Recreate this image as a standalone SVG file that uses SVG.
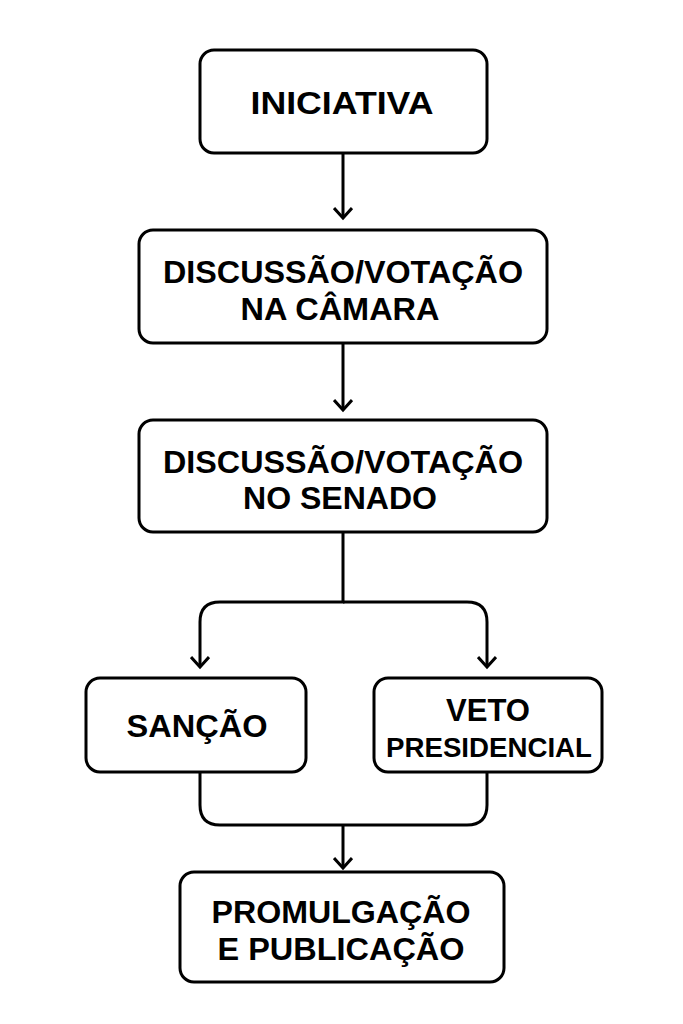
<svg xmlns="http://www.w3.org/2000/svg" width="683" height="1024" viewBox="0 0 683 1024">
<defs>
<marker id="ah" viewBox="0 0 20 20" refX="16" refY="10" markerWidth="20" markerHeight="20" markerUnits="userSpaceOnUse" orient="auto">
<path d="M6 1 L16 10 L6 19" fill="none" stroke="#000" stroke-width="3"/>
</marker>
<style>
.b{fill:#fff;stroke:#000;stroke-width:3}
text{font-family:"Liberation Sans",Arial,sans-serif;font-weight:bold;font-size:32px;text-anchor:middle;fill:#000}
.c{fill:none;stroke:#000;stroke-width:3}
</style>
</defs>
<rect width="683" height="1024" fill="#fff"/>
<g id="connectors">
<path class="c" d="M343 153 V218" marker-end="url(#ah)"/>
<path class="c" d="M343 343 V410" marker-end="url(#ah)"/>
<path class="c" d="M343 532 V602 H220 Q200 602 200 622 V667" marker-end="url(#ah)"/>
<path class="c" d="M343 602 H467 Q487 602 487 622 V667" marker-end="url(#ah)"/>
<path class="c" d="M200 772 V805 Q200 825 220 825 H467 Q487 825 487 805 V772"/>
<path class="c" d="M343 825 V868" marker-end="url(#ah)"/>
</g>
<g id="n1"><rect class="b" x="200" y="50" width="287" height="103" rx="14"/><text x="342" y="114" textLength="183" lengthAdjust="spacingAndGlyphs">INICIATIVA</text></g>
<g id="n2"><rect class="b" x="139" y="230" width="408" height="113" rx="14"/><text x="343" y="283" textLength="360" lengthAdjust="spacingAndGlyphs">DISCUSSÃO/VOTAÇÃO</text><text x="340" y="320" textLength="199" lengthAdjust="spacingAndGlyphs">NA CÂMARA</text></g>
<g id="n3"><rect class="b" x="139" y="420" width="408" height="112" rx="14"/><text x="343" y="473" textLength="360" lengthAdjust="spacingAndGlyphs">DISCUSSÃO/VOTAÇÃO</text><text x="340" y="509" textLength="194" lengthAdjust="spacingAndGlyphs">NO SENADO</text></g>
<g id="n4"><rect class="b" x="86" y="678" width="220" height="94" rx="14"/><text x="197" y="737" textLength="141" lengthAdjust="spacingAndGlyphs">SANÇÃO</text></g>
<g id="n5"><rect class="b" x="374" y="678" width="228" height="94" rx="14"/><text x="488" y="721" textLength="84" lengthAdjust="spacingAndGlyphs">VETO</text><text x="489" y="757" style="font-size:27px" textLength="206" lengthAdjust="spacingAndGlyphs">PRESIDENCIAL</text></g>
<g id="n6"><rect class="b" x="180" y="872" width="324" height="110" rx="14"/><text x="341" y="923" textLength="259" lengthAdjust="spacingAndGlyphs">PROMULGAÇÃO</text><text x="341" y="960" textLength="247" lengthAdjust="spacingAndGlyphs">E PUBLICAÇÃO</text></g>
</svg>
